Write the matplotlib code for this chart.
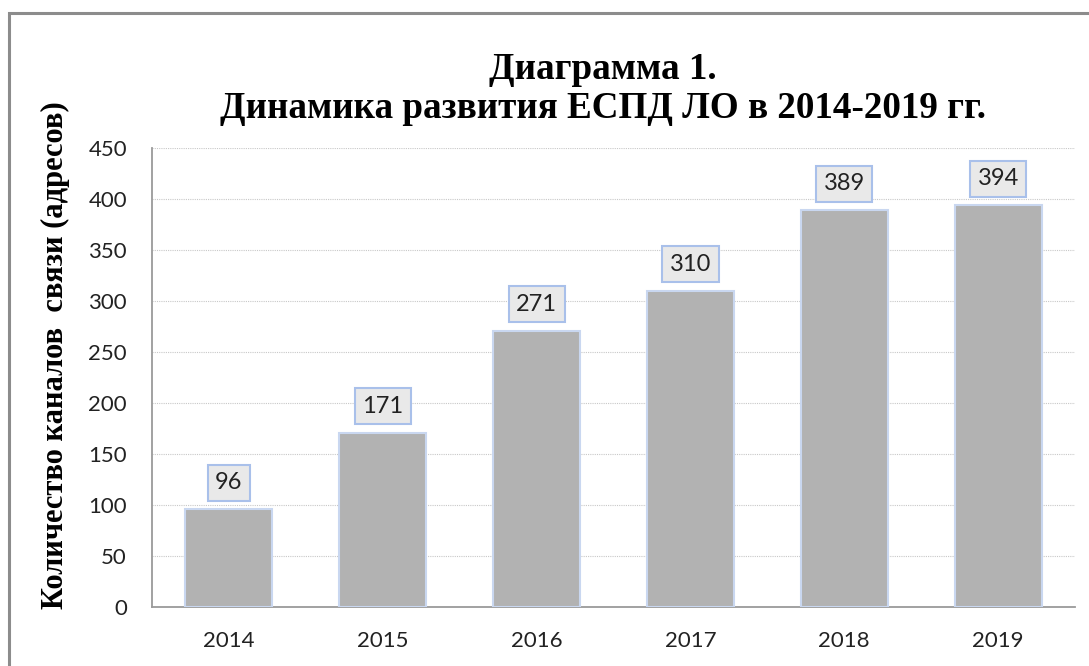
import matplotlib.pyplot as plt
from matplotlib.patches import Rectangle

years = ["2014", "2015", "2016", "2017", "2018", "2019"]
values = [96, 171, 271, 310, 389, 394]
y_ticks = [0, 50, 100, 150, 200, 250, 300, 350, 400, 450]

title = "Диаграмма 1.\nДинамика развития ЕСПД ЛО в 2014-2019 гг."
ylabel = "Количество каналов  связи (адресов)"

fig = plt.figure(figsize=(10.89, 6.66), dpi=100)
ax = fig.add_axes([152 / 1089, 1 - 607 / 666, (1075 - 152) / 1089, (607 - 148) / 666])

# outer frame of the chart area (cropped at right/bottom)
fig.patches.append(Rectangle((9 / 1089, -0.05), 1.2, 1 - 13 / 666 + 0.05,
                             transform=fig.transFigure, fill=False,
                             edgecolor="#8c8c8c", linewidth=2.2))

x = range(len(years))
ax.bar(x, values, width=0.565, color="#b2b2b2", edgecolor="#c9d7f0", linewidth=1.5, zorder=3)

for xi, v in zip(x, values):
    ax.annotate(str(v), (xi, v), xytext=(0, 19), textcoords="offset points",
                ha="center", va="center", fontsize=17, family="Lato", color="#222222",
                bbox=dict(boxstyle="square,pad=0.32", facecolor="#e9e9e9",
                          edgecolor="#a9c0ea", linewidth=1.5), zorder=4)

ax.set_xlim(-0.5, len(years) - 0.5)
ax.set_ylim(0, 450)
ax.set_yticks(y_ticks)
ax.set_xticks(list(x))
ax.set_xticklabels(years)
ax.tick_params(length=0, labelsize=16, labelcolor="#222222")
ax.tick_params(axis="y", pad=18)
ax.tick_params(axis="x", pad=17)
for lbl in ax.get_xticklabels() + ax.get_yticklabels():
    lbl.set_family("Lato")

ax.grid(axis="y", linestyle=(0, (1, 1)), color="#c8c8c8", linewidth=0.8, zorder=0)
for s in ["top", "right"]:
    ax.spines[s].set_visible(False)
ax.spines["left"].set_color("#9a9a9a")
ax.spines["bottom"].set_color("#9a9a9a")
ax.spines["left"].set_linewidth(1.3)
ax.spines["bottom"].set_linewidth(1.3)

fig.text(603 / 1089, 1 - 89 / 666, title, ha="center", va="center",
         fontsize=26.7, fontweight="bold", family="Liberation Serif", linespacing=1.12)
fig.text(55 / 1089, 1 - 355 / 666, ylabel, ha="center", va="center", rotation=90,
         fontsize=22, fontweight="bold", family="Liberation Serif")

fig.savefig("out.png", dpi=100)
